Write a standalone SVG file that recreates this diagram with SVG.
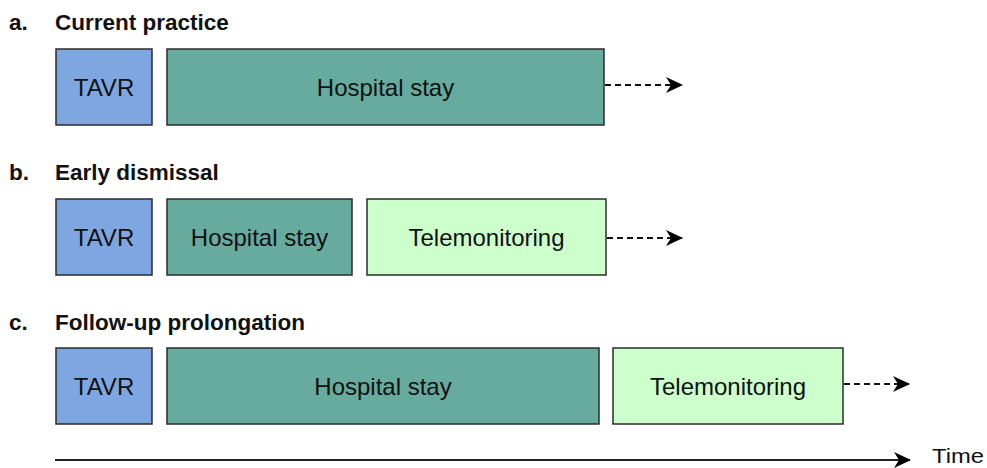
<svg xmlns="http://www.w3.org/2000/svg" width="987" height="468" viewBox="0 0 987 468">
<style>
  text { font-family: "Liberation Sans", Arial, sans-serif; fill: #111; }
  .title { font-size: 22.5px; font-weight: bold; }
  .lbl { font-size: 24px; text-anchor: middle; }
  .box { stroke: #2b2b2b; stroke-width: 1.5; }
  .tavr { fill: #7EA6E0; }
  .hosp { fill: #67AB9F; }
  .tele { fill: #CCFFCC; }
  .dash { stroke: #111; stroke-width: 2; stroke-dasharray: 6 4; fill: none; }
  .axis { stroke: #222; stroke-width: 2.2; fill: none; }
</style>
<defs>
  <marker id="ah" markerWidth="17" markerHeight="16" refX="16" refY="8" orient="auto" markerUnits="userSpaceOnUse" viewBox="0 0 17 16">
    <path d="M0,0 L17,8 L0,16 L5,8 Z" fill="#000"/>
  </marker>
</defs>

<g id="titles">
  <text class="title" x="9" y="30">a.</text>
  <text class="title" x="55" y="30">Current practice</text>
  <text class="title" x="9" y="180">b.</text>
  <text class="title" x="55" y="180">Early dismissal</text>
  <text class="title" x="9" y="330">c.</text>
  <text class="title" x="55" y="330">Follow-up prolongation</text>
</g>

<g id="a-tavr"><rect class="box tavr" x="56" y="49" width="96" height="76"/><text class="lbl" x="104" y="96">TAVR</text></g>
<g id="a-hosp"><rect class="box hosp" x="167" y="49" width="437" height="76"/><text class="lbl" x="385.5" y="96">Hospital stay</text></g>

<g id="b-tavr"><rect class="box tavr" x="56" y="199" width="96" height="76"/><text class="lbl" x="104" y="246">TAVR</text></g>
<g id="b-hosp"><rect class="box hosp" x="167" y="199" width="185" height="76"/><text class="lbl" x="259.5" y="246">Hospital stay</text></g>
<g id="b-tele"><rect class="box tele" x="367" y="199" width="239" height="76"/><text class="lbl" x="486.5" y="246">Telemonitoring</text></g>

<g id="c-tavr"><rect class="box tavr" x="56" y="348" width="96" height="76"/><text class="lbl" x="104" y="395">TAVR</text></g>
<g id="c-hosp"><rect class="box hosp" x="167" y="348" width="432" height="76"/><text class="lbl" x="383" y="395">Hospital stay</text></g>
<g id="c-tele"><rect class="box tele" x="613" y="348" width="230" height="76"/><text class="lbl" x="728" y="395">Telemonitoring</text></g>

<g id="connectors">
  <line class="dash" x1="605" y1="85" x2="682" y2="85" marker-end="url(#ah)"/>
  <line class="dash" x1="607" y1="238" x2="682" y2="238" marker-end="url(#ah)"/>
  <line class="dash" x1="844" y1="384" x2="909" y2="384" marker-end="url(#ah)"/>
  <line class="axis" x1="55" y1="460" x2="910" y2="460" marker-end="url(#ah)"/>
</g>

<g id="time-label">
  <text x="932" y="463" style="font-size:21px" textLength="52" lengthAdjust="spacingAndGlyphs">Time</text>
</g>
</svg>
